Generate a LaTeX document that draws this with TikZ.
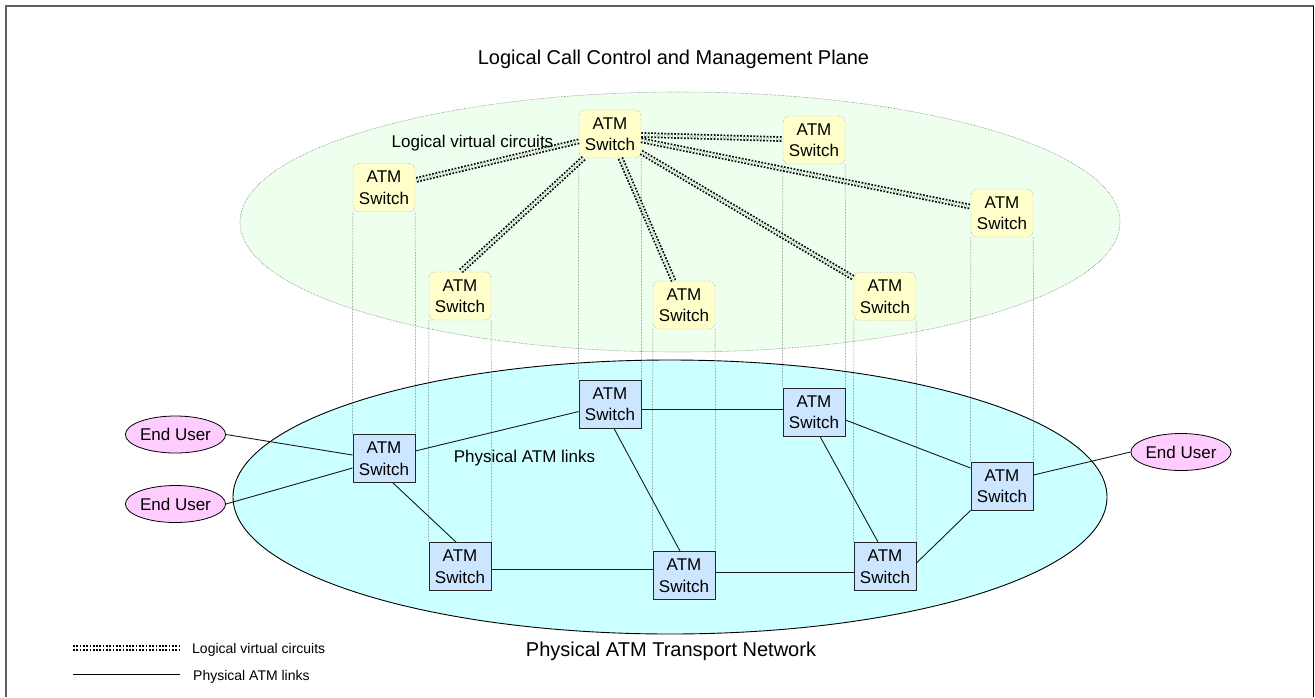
\documentclass[tikz,border=0pt]{standalone}
\usepackage{fontspec}
\setmainfont{Liberation Sans}
\usetikzlibrary{shapes.geometric}
\definecolor{lgreen}{HTML}{EEFFEE}
\definecolor{cyanfill}{HTML}{CCFFFF}
\definecolor{pblue}{HTML}{CCE6FF}
\definecolor{lyellow}{HTML}{FFFFCC}
\definecolor{eupink}{HTML}{FFCCFF}
\definecolor{framegray}{HTML}{606060}
\begin{document}
\begin{tikzpicture}[x=1pt,y=-1pt,
  swfont/.style={font=\fontsize{17}{21.5}\selectfont},
  lsw/.style={draw=gray, densely dotted, fill=lyellow, rounded corners=6pt, minimum width=62pt, minimum height=48pt, inner sep=0pt, align=center, swfont},
  psw/.style={draw=black!85, line width=0.9pt, fill=pblue, minimum width=62pt, minimum height=48pt, inner sep=0pt, align=center, swfont},
  eu/.style={ellipse, draw=black, line width=0.8pt, fill=eupink, minimum width=99pt, minimum height=37pt, inner sep=0pt, swfont},
  vc/.style={black, line width=1.7pt, dash pattern=on 1.7pt off 1.6pt, double=lgreen, double distance=2.3pt},
  plink/.style={black!90, line width=0.9pt},
  proj/.style={gray!50!black, line width=0.5pt, densely dotted},
  lbl/.style={inner sep=0pt, swfont},
  leg/.style={inner sep=0pt, font=\fontsize{14}{17}\selectfont}
]
\useasboundingbox (0,0) rectangle (1315,697);
% frame
\draw[framegray, line width=2pt] (5.5,697) -- (5.5,5.5) -- (1313.5,5.5);
\draw[black, line width=1.5pt] (1313.5,5.5) -- (1313.5,697);

% planes
\draw[draw=gray, densely dotted, line width=0.6pt, fill=lgreen] (680,222) ellipse [x radius=440pt, y radius=130pt];
\draw[draw=black, line width=0.9pt, fill=cyanfill] (670,497) ellipse [x radius=437pt, y radius=137pt];

% titles
\node[anchor=base, inner sep=0pt, font=\fontsize{20}{24}\selectfont] (title) at (673.5,64) {Logical Call Control and Management Plane};
\node[anchor=base, inner sep=0pt, font=\fontsize{20}{24}\selectfont] (ptitle) at (671,656) {Physical ATM Transport Network};

% logical switches
\node[lsw] (L1) at (384,187.5) {ATM\\Switch};
\node[lsw] (L2) at (610,134) {ATM\\Switch};
\node[lsw] (L3) at (460,296) {ATM\\Switch};
\node[lsw] (L4) at (684,305) {ATM\\Switch};
\node[lsw] (L5) at (814,140) {ATM\\Switch};
\node[lsw] (L6) at (1002,213) {ATM\\Switch};
\node[lsw] (L7) at (885,296.5) {ATM\\Switch};

% physical switches
\node[psw] (P1) at (384,458.5) {ATM\\Switch};
\node[psw] (P3) at (610,404) {ATM\\Switch};
\node[psw] (P2) at (460,566.5) {ATM\\Switch};
\node[psw] (P6) at (684,575.5) {ATM\\Switch};
\node[psw] (P4) at (814,412) {ATM\\Switch};
\node[psw] (P5) at (1002,486) {ATM\\Switch};
\node[psw] (P7) at (885,566.5) {ATM\\Switch};

% end users
\node[eu] (EU1) at (175.5,434.5) {End User};
\node[eu] (EU2) at (175.5,504) {End User};
\node[eu] (EU3) at (1181,452) {End User};

% projections
\foreach \l/\p in {L1/P1,L2/P3,L3/P2,L4/P6,L5/P4,L6/P5,L7/P7}{
  \draw[proj] (\l.south west) -- (\p.north west);
  \draw[proj] (\l.south east) -- (\p.north east);
}

% logical virtual circuits
\draw[vc] (L2) -- (L1);
\draw[vc] (L2) -- (L3.north);
\draw[vc] (L2) -- (L4);
\draw[vc] (L2) -- (L5);
\draw[vc] (L2) -- (L6);
\draw[vc] (L2) -- (L7);
\node[lbl, anchor=base] (lvc) at (472.5,147) {Logical virtual circuits};

% physical links
\draw[plink] (EU1.east) -- ([yshift=3.5pt]P1.west);
\draw[plink] (EU2.east) -- ([yshift=-9.5pt]P1.west);
\draw[plink] (P1) -- (P3);
\draw[plink] ([xshift=9pt]P1.south) -- ([xshift=-4pt]P2.north);
\draw[plink] ([yshift=-2.5pt]P2.east) -- ([yshift=6.5pt]P6.west);
\draw[plink] ([yshift=-5pt]P3.east) -- ([yshift=3pt]P4.west);
\draw[plink] ([xshift=4pt]P3.south) -- ([xshift=-4pt]P6.north);
\draw[plink] ([xshift=6pt]P4.south) -- ([xshift=-7pt]P7.north);
\draw[plink] ([yshift=-8pt]P4.east) -- ([yshift=18pt]P5.west);
\draw[plink] ([yshift=3.5pt]P6.east) -- ([yshift=-5.5pt]P7.west);
\draw[plink] ([yshift=3.5pt]P7.east) -- (P5.south west);
\draw[plink] ([yshift=11pt]P5.east) -- (EU3.west);
\node[lbl, anchor=base] (pal) at (524.5,462) {Physical ATM links};

% legend
\coordinate (lga) at (73,648);
\coordinate (lgb) at (180,648);
\coordinate (lgc) at (73,674);
\coordinate (lgd) at (180,674);
\draw[vc, double=white] (lga) -- (lgb);
\draw[black, line width=0.8pt] (lgc) -- (lgd);
\node[leg, anchor=base west] (lgt1) at (192,653) {Logical virtual circuits};
\node[leg, anchor=base west] (lgt2) at (193,680) {Physical ATM links};
\end{tikzpicture}
\end{document}
